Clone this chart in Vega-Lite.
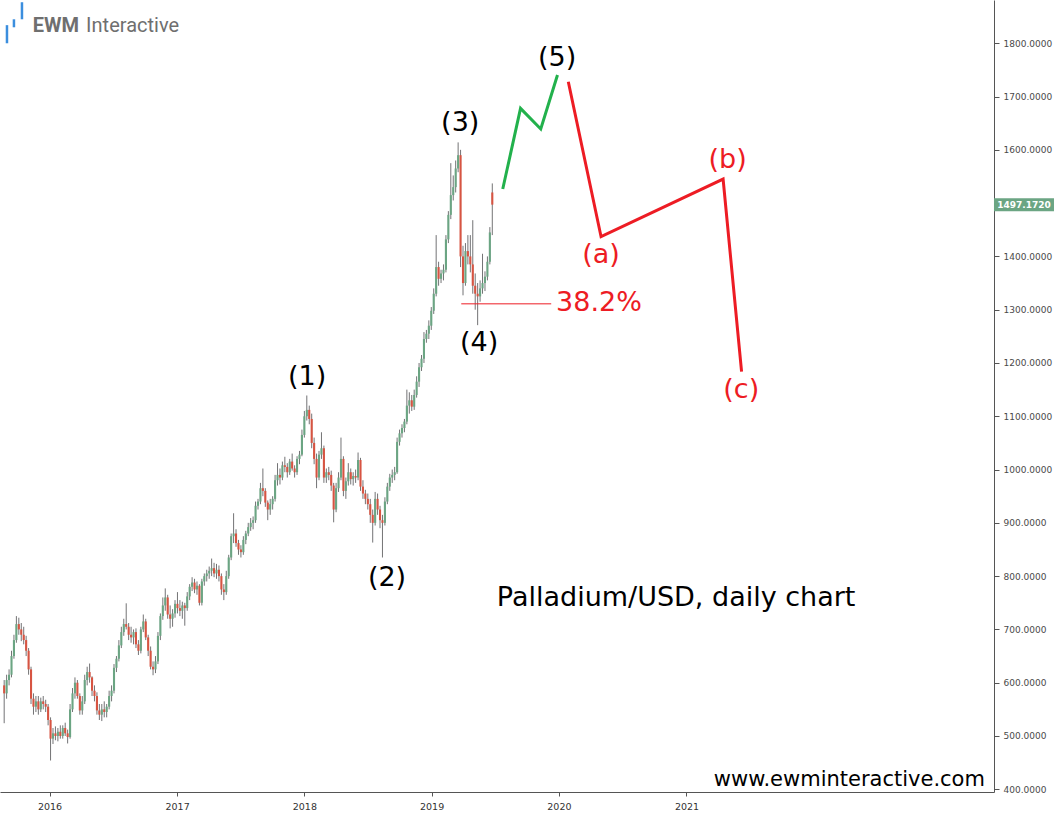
{
  "$schema": "https://vega.github.io/schema/vega-lite/v6.json",
  "width": 994,
  "height": 792,
  "autosize": {"type": "none"},
  "padding": {"left": 0, "top": 0, "right": 60, "bottom": 22},
  "background": "#ffffff",
  "config": {"view": {"stroke": null}},
  "datasets": {
    "candles": [
      {"d":"2015-08-24","o":595,"h":605,"l":524,"c":580},
      {"d":"2015-08-31","o":580,"h":615,"l":570,"c":605},
      {"d":"2015-09-07","o":605,"h":625,"l":595,"c":615},
      {"d":"2015-09-14","o":615,"h":660,"l":610,"c":650},
      {"d":"2015-09-21","o":650,"h":690,"l":645,"c":680},
      {"d":"2015-09-28","o":680,"h":725,"l":675,"c":710},
      {"d":"2015-10-05","o":710,"h":722,"l":690,"c":700},
      {"d":"2015-10-12","o":700,"h":712,"l":678,"c":690},
      {"d":"2015-10-19","o":690,"h":705,"l":672,"c":680},
      {"d":"2015-10-26","o":680,"h":688,"l":650,"c":660},
      {"d":"2015-11-02","o":660,"h":665,"l":615,"c":625},
      {"d":"2015-11-09","o":625,"h":630,"l":560,"c":570},
      {"d":"2015-11-16","o":570,"h":580,"l":540,"c":555},
      {"d":"2015-11-23","o":555,"h":575,"l":545,"c":565},
      {"d":"2015-11-30","o":565,"h":575,"l":540,"c":550},
      {"d":"2015-12-07","o":550,"h":572,"l":545,"c":565},
      {"d":"2015-12-14","o":565,"h":575,"l":550,"c":560},
      {"d":"2015-12-21","o":560,"h":568,"l":545,"c":555},
      {"d":"2015-12-28","o":555,"h":560,"l":520,"c":530},
      {"d":"2016-01-04","o":530,"h":535,"l":454,"c":495},
      {"d":"2016-01-11","o":495,"h":515,"l":485,"c":505},
      {"d":"2016-01-18","o":505,"h":518,"l":492,"c":500},
      {"d":"2016-01-25","o":500,"h":515,"l":490,"c":508},
      {"d":"2016-02-01","o":508,"h":520,"l":495,"c":500},
      {"d":"2016-02-08","o":500,"h":520,"l":495,"c":515},
      {"d":"2016-02-15","o":515,"h":525,"l":500,"c":505},
      {"d":"2016-02-22","o":505,"h":512,"l":486,"c":498},
      {"d":"2016-02-29","o":498,"h":560,"l":495,"c":550},
      {"d":"2016-03-07","o":550,"h":590,"l":545,"c":580},
      {"d":"2016-03-14","o":580,"h":610,"l":570,"c":600},
      {"d":"2016-03-21","o":600,"h":605,"l":570,"c":575},
      {"d":"2016-03-28","o":575,"h":580,"l":540,"c":548},
      {"d":"2016-04-04","o":548,"h":575,"l":540,"c":565},
      {"d":"2016-04-11","o":565,"h":615,"l":560,"c":605},
      {"d":"2016-04-18","o":605,"h":630,"l":595,"c":620},
      {"d":"2016-04-25","o":620,"h":636,"l":600,"c":610},
      {"d":"2016-05-02","o":610,"h":612,"l":575,"c":585},
      {"d":"2016-05-09","o":585,"h":595,"l":565,"c":575},
      {"d":"2016-05-16","o":575,"h":582,"l":540,"c":548},
      {"d":"2016-05-23","o":548,"h":560,"l":530,"c":540},
      {"d":"2016-05-30","o":540,"h":560,"l":528,"c":550},
      {"d":"2016-06-06","o":550,"h":565,"l":535,"c":545},
      {"d":"2016-06-13","o":545,"h":560,"l":535,"c":555},
      {"d":"2016-06-20","o":555,"h":585,"l":550,"c":575},
      {"d":"2016-06-27","o":575,"h":595,"l":565,"c":585},
      {"d":"2016-07-04","o":585,"h":635,"l":580,"c":628},
      {"d":"2016-07-11","o":628,"h":650,"l":620,"c":645},
      {"d":"2016-07-18","o":645,"h":680,"l":640,"c":670},
      {"d":"2016-07-25","o":670,"h":705,"l":665,"c":695},
      {"d":"2016-08-01","o":695,"h":720,"l":688,"c":710},
      {"d":"2016-08-08","o":710,"h":749,"l":700,"c":705},
      {"d":"2016-08-15","o":705,"h":712,"l":680,"c":690},
      {"d":"2016-08-22","o":690,"h":705,"l":675,"c":685},
      {"d":"2016-08-29","o":685,"h":700,"l":672,"c":695},
      {"d":"2016-09-05","o":695,"h":702,"l":665,"c":672},
      {"d":"2016-09-12","o":672,"h":680,"l":652,"c":660},
      {"d":"2016-09-19","o":660,"h":705,"l":655,"c":700},
      {"d":"2016-09-26","o":700,"h":728,"l":695,"c":715},
      {"d":"2016-10-03","o":715,"h":720,"l":680,"c":685},
      {"d":"2016-10-10","o":685,"h":690,"l":650,"c":660},
      {"d":"2016-10-17","o":660,"h":668,"l":625,"c":630},
      {"d":"2016-10-24","o":630,"h":640,"l":614,"c":625},
      {"d":"2016-10-31","o":625,"h":650,"l":618,"c":640},
      {"d":"2016-11-07","o":640,"h":695,"l":635,"c":688},
      {"d":"2016-11-14","o":688,"h":730,"l":680,"c":725},
      {"d":"2016-11-21","o":725,"h":760,"l":718,"c":745},
      {"d":"2016-11-28","o":745,"h":777,"l":735,"c":760},
      {"d":"2016-12-05","o":760,"h":765,"l":720,"c":728},
      {"d":"2016-12-12","o":728,"h":745,"l":702,"c":720},
      {"d":"2016-12-19","o":720,"h":738,"l":705,"c":730},
      {"d":"2016-12-26","o":730,"h":755,"l":722,"c":748},
      {"d":"2017-01-02","o":748,"h":770,"l":730,"c":740},
      {"d":"2017-01-09","o":740,"h":755,"l":725,"c":735},
      {"d":"2017-01-16","o":735,"h":752,"l":720,"c":745},
      {"d":"2017-01-23","o":745,"h":750,"l":707,"c":740},
      {"d":"2017-01-30","o":740,"h":770,"l":735,"c":762},
      {"d":"2017-02-06","o":762,"h":785,"l":755,"c":780},
      {"d":"2017-02-13","o":780,"h":798,"l":772,"c":788},
      {"d":"2017-02-20","o":788,"h":795,"l":768,"c":775},
      {"d":"2017-02-27","o":775,"h":790,"l":765,"c":782},
      {"d":"2017-03-06","o":782,"h":785,"l":745,"c":750},
      {"d":"2017-03-13","o":750,"h":795,"l":745,"c":790},
      {"d":"2017-03-20","o":790,"h":805,"l":782,"c":800},
      {"d":"2017-03-27","o":800,"h":812,"l":790,"c":805},
      {"d":"2017-04-03","o":805,"h":818,"l":795,"c":810},
      {"d":"2017-04-10","o":810,"h":833,"l":800,"c":815},
      {"d":"2017-04-17","o":815,"h":825,"l":798,"c":805},
      {"d":"2017-04-24","o":805,"h":823,"l":795,"c":812},
      {"d":"2017-05-01","o":812,"h":820,"l":790,"c":800},
      {"d":"2017-05-08","o":800,"h":805,"l":765,"c":775},
      {"d":"2017-05-15","o":775,"h":785,"l":755,"c":770},
      {"d":"2017-05-22","o":770,"h":810,"l":765,"c":800},
      {"d":"2017-05-29","o":800,"h":840,"l":795,"c":835},
      {"d":"2017-06-05","o":835,"h":880,"l":830,"c":875},
      {"d":"2017-06-12","o":875,"h":918,"l":862,"c":880},
      {"d":"2017-06-19","o":880,"h":888,"l":855,"c":862},
      {"d":"2017-06-26","o":862,"h":868,"l":840,"c":850},
      {"d":"2017-07-03","o":850,"h":858,"l":835,"c":845},
      {"d":"2017-07-10","o":845,"h":875,"l":840,"c":868},
      {"d":"2017-07-17","o":868,"h":885,"l":860,"c":880},
      {"d":"2017-07-24","o":880,"h":900,"l":875,"c":892},
      {"d":"2017-07-31","o":892,"h":909,"l":885,"c":900},
      {"d":"2017-08-07","o":900,"h":912,"l":888,"c":905},
      {"d":"2017-08-14","o":905,"h":940,"l":900,"c":932},
      {"d":"2017-08-21","o":932,"h":945,"l":925,"c":940},
      {"d":"2017-08-28","o":940,"h":975,"l":935,"c":965},
      {"d":"2017-09-04","o":965,"h":1002,"l":950,"c":960},
      {"d":"2017-09-11","o":960,"h":965,"l":930,"c":938},
      {"d":"2017-09-18","o":938,"h":942,"l":905,"c":925},
      {"d":"2017-09-25","o":925,"h":945,"l":915,"c":935},
      {"d":"2017-10-02","o":935,"h":950,"l":925,"c":945},
      {"d":"2017-10-09","o":945,"h":990,"l":940,"c":980},
      {"d":"2017-10-16","o":980,"h":1012,"l":970,"c":990},
      {"d":"2017-10-23","o":990,"h":1002,"l":972,"c":985},
      {"d":"2017-10-30","o":985,"h":1015,"l":980,"c":1008},
      {"d":"2017-11-06","o":1008,"h":1024,"l":995,"c":1005},
      {"d":"2017-11-13","o":1005,"h":1012,"l":985,"c":995},
      {"d":"2017-11-20","o":995,"h":1020,"l":990,"c":1015},
      {"d":"2017-11-27","o":1015,"h":1030,"l":998,"c":1002},
      {"d":"2017-12-04","o":1002,"h":1008,"l":985,"c":995},
      {"d":"2017-12-11","o":995,"h":1025,"l":990,"c":1020},
      {"d":"2017-12-18","o":1020,"h":1035,"l":1010,"c":1028},
      {"d":"2017-12-25","o":1028,"h":1075,"l":1025,"c":1065},
      {"d":"2018-01-01","o":1065,"h":1110,"l":1060,"c":1100},
      {"d":"2018-01-08","o":1100,"h":1139,"l":1092,"c":1112},
      {"d":"2018-01-15","o":1112,"h":1120,"l":1085,"c":1095},
      {"d":"2018-01-22","o":1095,"h":1105,"l":1040,"c":1050},
      {"d":"2018-01-29","o":1050,"h":1060,"l":1010,"c":1020},
      {"d":"2018-02-05","o":1020,"h":1030,"l":965,"c":985},
      {"d":"2018-02-12","o":985,"h":1035,"l":980,"c":1028},
      {"d":"2018-02-19","o":1028,"h":1070,"l":1020,"c":1040},
      {"d":"2018-02-26","o":1040,"h":1045,"l":975,"c":985},
      {"d":"2018-03-05","o":985,"h":1002,"l":975,"c":995},
      {"d":"2018-03-12","o":995,"h":1005,"l":980,"c":990},
      {"d":"2018-03-19","o":990,"h":998,"l":960,"c":970},
      {"d":"2018-03-26","o":970,"h":975,"l":901,"c":925},
      {"d":"2018-04-02","o":925,"h":975,"l":920,"c":965},
      {"d":"2018-04-09","o":965,"h":995,"l":958,"c":985},
      {"d":"2018-04-16","o":985,"h":1060,"l":980,"c":1020},
      {"d":"2018-04-23","o":1020,"h":1025,"l":950,"c":960},
      {"d":"2018-04-30","o":960,"h":985,"l":945,"c":978},
      {"d":"2018-05-07","o":978,"h":1012,"l":970,"c":995},
      {"d":"2018-05-14","o":995,"h":1002,"l":972,"c":982},
      {"d":"2018-05-21","o":982,"h":995,"l":970,"c":988},
      {"d":"2018-05-28","o":988,"h":1000,"l":975,"c":985},
      {"d":"2018-06-04","o":985,"h":1032,"l":980,"c":1018},
      {"d":"2018-06-11","o":1018,"h":1022,"l":960,"c":968},
      {"d":"2018-06-18","o":968,"h":980,"l":945,"c":955},
      {"d":"2018-06-25","o":955,"h":962,"l":935,"c":945},
      {"d":"2018-07-02","o":945,"h":955,"l":925,"c":935},
      {"d":"2018-07-09","o":935,"h":945,"l":900,"c":915},
      {"d":"2018-07-16","o":915,"h":925,"l":863,"c":900},
      {"d":"2018-07-23","o":900,"h":958,"l":895,"c":945},
      {"d":"2018-07-30","o":945,"h":955,"l":915,"c":925},
      {"d":"2018-08-06","o":925,"h":932,"l":890,"c":905},
      {"d":"2018-08-13","o":905,"h":915,"l":835,"c":900},
      {"d":"2018-08-20","o":900,"h":948,"l":895,"c":940},
      {"d":"2018-08-27","o":940,"h":975,"l":935,"c":968},
      {"d":"2018-09-03","o":968,"h":992,"l":960,"c":985},
      {"d":"2018-09-10","o":985,"h":1000,"l":975,"c":990},
      {"d":"2018-09-17","o":990,"h":1005,"l":980,"c":995},
      {"d":"2018-09-24","o":995,"h":1060,"l":992,"c":1052},
      {"d":"2018-10-01","o":1052,"h":1075,"l":1045,"c":1068},
      {"d":"2018-10-08","o":1068,"h":1085,"l":1060,"c":1078},
      {"d":"2018-10-15","o":1078,"h":1095,"l":1070,"c":1090},
      {"d":"2018-10-22","o":1090,"h":1150,"l":1085,"c":1120},
      {"d":"2018-10-29","o":1120,"h":1145,"l":1105,"c":1130},
      {"d":"2018-11-05","o":1130,"h":1140,"l":1110,"c":1118},
      {"d":"2018-11-12","o":1118,"h":1150,"l":1112,"c":1140},
      {"d":"2018-11-19","o":1140,"h":1175,"l":1135,"c":1165},
      {"d":"2018-11-26","o":1165,"h":1200,"l":1155,"c":1192},
      {"d":"2018-12-03","o":1192,"h":1215,"l":1185,"c":1208},
      {"d":"2018-12-10","o":1208,"h":1258,"l":1200,"c":1245},
      {"d":"2018-12-17","o":1245,"h":1262,"l":1238,"c":1255},
      {"d":"2018-12-24","o":1255,"h":1280,"l":1245,"c":1270},
      {"d":"2018-12-31","o":1270,"h":1305,"l":1262,"c":1298},
      {"d":"2019-01-07","o":1298,"h":1340,"l":1292,"c":1330},
      {"d":"2019-01-14","o":1330,"h":1440,"l":1325,"c":1380},
      {"d":"2019-01-21","o":1380,"h":1390,"l":1345,"c":1358},
      {"d":"2019-01-28","o":1358,"h":1375,"l":1350,"c":1368},
      {"d":"2019-02-04","o":1368,"h":1385,"l":1355,"c":1375},
      {"d":"2019-02-11","o":1375,"h":1440,"l":1370,"c":1432},
      {"d":"2019-02-18","o":1432,"h":1485,"l":1425,"c":1478},
      {"d":"2019-02-25","o":1478,"h":1575,"l":1470,"c":1515},
      {"d":"2019-03-04","o":1515,"h":1552,"l":1505,"c":1530},
      {"d":"2019-03-11","o":1530,"h":1580,"l":1520,"c":1565},
      {"d":"2019-03-18","o":1565,"h":1614,"l":1558,"c":1590},
      {"d":"2019-03-25","o":1590,"h":1600,"l":1380,"c":1400},
      {"d":"2019-04-01","o":1400,"h":1420,"l":1327,"c":1350},
      {"d":"2019-04-08","o":1350,"h":1425,"l":1345,"c":1410},
      {"d":"2019-04-15","o":1410,"h":1440,"l":1385,"c":1400},
      {"d":"2019-04-22","o":1400,"h":1440,"l":1370,"c":1385},
      {"d":"2019-04-29","o":1385,"h":1468,"l":1330,"c":1345},
      {"d":"2019-05-06","o":1345,"h":1368,"l":1300,"c":1330},
      {"d":"2019-05-13","o":1330,"h":1350,"l":1271,"c":1325},
      {"d":"2019-05-20","o":1325,"h":1355,"l":1315,"c":1340},
      {"d":"2019-05-27","o":1340,"h":1405,"l":1330,"c":1350},
      {"d":"2019-06-03","o":1350,"h":1372,"l":1335,"c":1362},
      {"d":"2019-06-10","o":1362,"h":1400,"l":1355,"c":1390},
      {"d":"2019-06-17","o":1390,"h":1455,"l":1385,"c":1445},
      {"d":"2019-06-24","o":1520,"h":1537,"l":1440,"c":1497.172}
    ],
    "waves": [
      {"d":"2019-07-24","v":1526.5,"s":"impulse"},
      {"d":"2019-09-13","v":1677.9,"s":"impulse"},
      {"d":"2019-11-10","v":1639.1,"s":"impulse"},
      {"d":"2019-12-28","v":1740.4,"s":"impulse"},
      {"d":"2020-01-28","v":1727.8,"s":"correction"},
      {"d":"2020-05-01","v":1437.0,"s":"correction"},
      {"d":"2021-04-16","v":1545.2,"s":"correction"},
      {"d":"2021-06-08","v":1183.6,"s":"correction"}
    ],
    "blackLabels": [
      {"d":"2018-01-09","v":1173.7,"t":"(1)"},
      {"d":"2018-08-26","v":796.5,"t":"(2)"},
      {"d":"2019-03-24","v":1650,"t":"(3)"},
      {"d":"2019-05-17","v":1237.5,"t":"(4)"},
      {"d":"2019-12-27","v":1772.3,"t":"(5)"}
    ],
    "redLabels": [
      {"d":"2020-05-01","v":1402.6,"t":"(a)"},
      {"d":"2021-04-29","v":1581,"t":"(b)"},
      {"d":"2021-06-07","v":1149.3,"t":"(c)"}
    ]
  },
  "layer": [
    {
      "data": {"name": "candles"},
      "mark": {"type": "rule", "color": "#737375", "strokeWidth": 1},
      "encoding": {
        "x": {"field": "d", "type": "temporal",
          "scale": {"type": "utc", "domain": [{"year":2015,"month":8,"date":12,"utc":true},{"year":2023,"month":6,"date":2,"utc":true}]},
          "axis": {"values": [{"year":2016,"utc":true},{"year":2017,"utc":true},{"year":2018,"utc":true},{"year":2019,"utc":true},{"year":2020,"utc":true},{"year":2021,"utc":true}],
            "format": "%Y", "title": null, "grid": false, "tickSize": 4, "labelPadding": 5, "labelFlush": false,
            "labelFont": "DejaVu Sans", "labelFontSize": 9.5, "labelColor": "#333333",
            "domainColor": "#555555", "tickColor": "#555555"}},
        "y": {"field": "l", "type": "quantitative",
          "scale": {"domain": [394.9, 1881.2], "nice": false, "zero": false},
          "axis": {"orient": "right", "values": [400,500,600,700,800,900,1000,1100,1200,1300,1400,1600,1700,1800],
            "format": ".4f", "title": null, "grid": false, "tickSize": 5, "labelPadding": 4,
            "labelFont": "DejaVu Sans", "labelFontSize": 9, "labelColor": "#4a4a4a",
            "domainColor": "#555555", "tickColor": "#555555"}},
        "y2": {"field": "h"}
      }
    },
    {
      "data": {"name": "candles"},
      "mark": {"type": "rule", "strokeWidth": 2.1},
      "encoding": {
        "x": {"field": "d", "type": "temporal"},
        "y": {"field": "o", "type": "quantitative"},
        "y2": {"field": "c"},
        "color": {"condition": {"test": "datum.c >= datum.o", "value": "#6ba583"}, "value": "#d75442"}
      }
    },
    {
      "data": {"values": [{"d":"2019-03-27","d2":"2019-12-10","v":1311}]},
      "mark": {"type": "rule", "color": "#ed1c24", "strokeWidth": 1},
      "encoding": {
        "x": {"field": "d", "type": "temporal"},
        "x2": {"field": "d2"},
        "y": {"field": "v", "type": "quantitative"}
      }
    },
    {
      "data": {"name": "waves"},
      "mark": {"type": "line", "strokeWidth": 3},
      "encoding": {
        "x": {"field": "d", "type": "temporal"},
        "y": {"field": "v", "type": "quantitative"},
        "color": {"field": "s", "type": "nominal", "legend": null,
          "scale": {"domain": ["impulse", "correction"], "range": ["#22b14c", "#ed1c24"]}}
      }
    },
    {
      "data": {"name": "blackLabels"},
      "mark": {"type": "text", "font": "DejaVu Sans", "fontSize": 27, "color": "#000000", "align": "center", "baseline": "middle"},
      "encoding": {
        "x": {"field": "d", "type": "temporal"},
        "y": {"field": "v", "type": "quantitative"},
        "text": {"field": "t"}
      }
    },
    {
      "data": {"name": "redLabels"},
      "mark": {"type": "text", "font": "DejaVu Sans", "fontSize": 27, "color": "#ed1c24", "align": "center", "baseline": "middle"},
      "encoding": {
        "x": {"field": "d", "type": "temporal"},
        "y": {"field": "v", "type": "quantitative"},
        "text": {"field": "t"}
      }
    },
    {
      "data": {"values": [{"d":"2019-12-24","v":1312.6,"t":"38.2%"}]},
      "mark": {"type": "text", "font": "DejaVu Sans", "fontSize": 27, "color": "#ed1c24", "align": "left", "baseline": "middle"},
      "encoding": {
        "x": {"field": "d", "type": "temporal"},
        "y": {"field": "v", "type": "quantitative"},
        "text": {"field": "t"}
      }
    },
    {
      "data": {"values": [{"d":"2019-07-07","v":759,"t":"Palladium/USD, daily chart"}]},
      "mark": {"type": "text", "font": "DejaVu Sans", "fontSize": 27, "color": "#000000", "align": "left", "baseline": "middle"},
      "encoding": {
        "x": {"field": "d", "type": "temporal"},
        "y": {"field": "v", "type": "quantitative"},
        "text": {"field": "t"}
      }
    },
    {
      "data": {"values": [{"d":"2023-05-07","v":417.5,"t":"www.ewminteractive.com"}]},
      "mark": {"type": "text", "font": "DejaVu Sans", "fontSize": 21, "color": "#000000", "align": "right", "baseline": "middle"},
      "encoding": {
        "x": {"field": "d", "type": "temporal"},
        "y": {"field": "v", "type": "quantitative"},
        "text": {"field": "t"}
      }
    },
    {
      "data": {"values": [{"d":"2015-11-14","v":1832.3,"t":"EWM"}]},
      "mark": {"type": "text", "font": "Roboto", "fontSize": 20, "fontWeight": "bold", "color": "#6f6f6f", "align": "left", "baseline": "middle"},
      "encoding": {
        "x": {"field": "d", "type": "temporal"},
        "y": {"field": "v", "type": "quantitative"},
        "text": {"field": "t"}
      }
    },
    {
      "data": {"values": [{"d":"2016-04-15","v":1832.3,"t":"Interactive"}]},
      "mark": {"type": "text", "font": "Roboto", "fontSize": 20, "color": "#6f6f6f", "align": "left", "baseline": "middle"},
      "encoding": {
        "x": {"field": "d", "type": "temporal"},
        "y": {"field": "v", "type": "quantitative"},
        "text": {"field": "t"}
      }
    },
    {
      "data": {"values": [
        {"d":"2015-09-01","v":1800,"v2":1834},
        {"d":"2015-09-21","v":1830,"v2":1845},
        {"d":"2015-10-14","v":1845,"v2":1877}
      ]},
      "mark": {"type": "rule", "color": "#3b8ede", "strokeWidth": 2.5},
      "encoding": {
        "x": {"field": "d", "type": "temporal"},
        "y": {"field": "v", "type": "quantitative"},
        "y2": {"field": "v2"}
      }
    },
    {
      "data": {"values": [{"v": 1497.172}]},
      "mark": {"type": "point", "shape": "M-1,-0.217H1V0.217H-1Z", "filled": true, "size": 3600, "color": "#6ba583", "opacity": 1},
      "encoding": {
        "x": {"datum": {"year":2023,"month":8,"date":27,"utc":true}, "type": "temporal"},
        "y": {"field": "v", "type": "quantitative"}
      }
    },
    {
      "data": {"values": [{"v": 1497.172}]},
      "mark": {"type": "text", "font": "DejaVu Sans", "fontSize": 9, "fontWeight": "bold", "color": "#ffffff", "align": "center", "baseline": "middle"},
      "encoding": {
        "x": {"datum": {"year":2023,"month":8,"date":27,"utc":true}, "type": "temporal"},
        "y": {"field": "v", "type": "quantitative"},
        "text": {"field": "v", "type": "quantitative", "format": ".4f"}
      }
    }
  ]
}
